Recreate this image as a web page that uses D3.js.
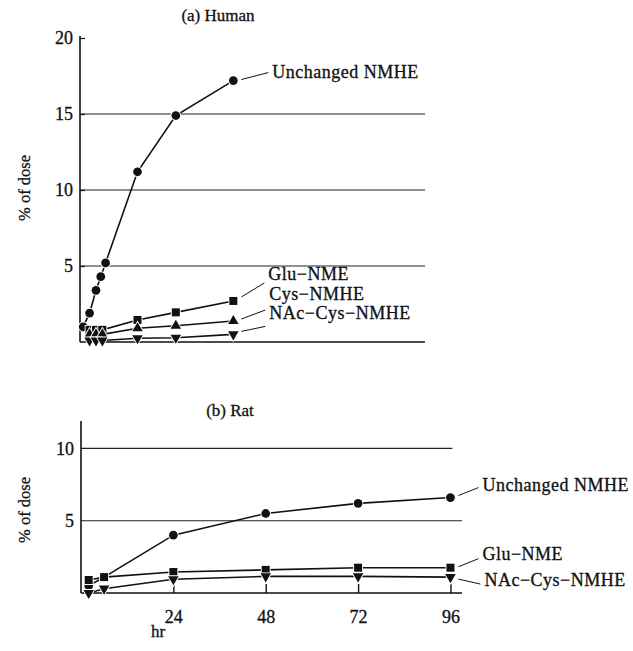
<!DOCTYPE html>
<html>
<head>
<meta charset="utf-8">
<script src="https://cdn.jsdelivr.net/npm/d3@7"></script>
<style>
  body { margin: 0; background: #fff; }
  text { font-family: "Liberation Serif", "Times New Roman", serif; fill: #111; stroke: #111; stroke-width: 0.3px; }
</style>
</head>
<body>
<script>
// Human data (hours, % of dose)
const humanHours = [0.5, 1.5, 2.5, 3.25, 4, 9, 15, 24];
const humanUnchanged = [1.0, 1.9, 3.4, 4.3, 5.2, 11.2, 14.9, 17.2];
const humanMetHours = [1.5, 2.5, 3.5, 9, 15, 24];
const humanGlu = [0.8, 0.8, 0.8, 1.45, 1.95, 2.7];
const humanCys = [0.5, 0.5, 0.5, 0.9, 1.07, 1.38];
const humanNAc = [0.1, 0.1, 0.1, 0.25, 0.28, 0.5];

// Rat data
const ratHours = [2, 6, 24, 48, 72, 96];
const ratUnchanged = [0.5, 1.1, 4.0, 5.5, 6.2, 6.6];
const ratGlu = [0.9, 1.1, 1.45, 1.6, 1.75, 1.75];
const ratNAc = [0, 0.3, 0.95, 1.15, 1.15, 1.1];

// Axis ticks
const humanYTicks = [5, 10, 15, 20];
const ratYTicks = [5, 10];
const ratXTicks = [24, 48, 72, 96];

const width = 633, height = 651;

const svg = d3.select('body').append('svg')
    .attr('width', width)
    .attr('height', height);

// marker shapes
const symbols = {
    circle: d3.symbol().type(d3.symbolCircle).size(60),
    square: d3.symbol().type(d3.symbolSquare).size(64),
    up: d3.symbol().type(d3.symbolTriangle).size(48)
};

function drawPanel(p) {
    const g = svg.append('g');

    const x = d3.scaleLinear().domain(p.xDomain).range(p.xRange);
    const y = d3.scaleLinear().domain(p.yDomain).range(p.yRange);

    // title
    g.append('text')
        .attr('x', p.titleX)
        .attr('y', p.titleY)
        .attr('text-anchor', 'middle')
        .attr('font-size', 17)
        .text(p.title);

    // y label
    g.append('text')
        .attr('transform', 'translate(' + 24 + ',' + p.yLabelY + ') rotate(-90)')
        .attr('text-anchor', 'middle')
        .attr('dy', '0.35em')
        .attr('font-size', 16.5)
        .text('% of dose');

    // grid lines
    g.selectAll('.grid').data(p.gridTicks).enter().append('line')
        .attr('x1', p.xRange[0])
        .attr('x2', d => x(p.gridEnd(d)))
        .attr('y1', d => y(d))
        .attr('y2', d => y(d))
        .attr('stroke', '#222')
        .attr('stroke-width', 1.1);

    // y axis
    const yAxis = d3.axisLeft(y)
        .tickValues(p.yTicks)
        .tickSize(p.yTickSize)
        .tickPadding(7)
        .tickFormat(d3.format('d'));
    const ya = g.append('g')
        .attr('transform', 'translate(' + p.xRange[0] + ',0)')
        .call(yAxis);
    ya.select('.domain')
        .attr('d', 'M0,' + p.yRange[0] + 'V' + p.axisTop)
        .attr('stroke', '#111').attr('stroke-width', 1.6);
    ya.selectAll('.tick line').attr('stroke', '#111').attr('stroke-width', 1.2);
    ya.selectAll('.tick text')
        .attr('font-family', '"Liberation Serif", serif')
        .attr('font-size', 18)
        .attr('fill', '#111');

    // x axis
    const xAxis = d3.axisBottom(x)
        .tickValues(p.xTicks)
        .tickSize(-9)
        .tickPadding(17)
        .tickFormat(d3.format('d'));
    const xa = g.append('g')
        .attr('transform', 'translate(0,' + p.yRange[0] + ')')
        .call(xAxis);
    xa.select('.domain')
        .attr('d', 'M' + p.xRange[0] + ',0H' + p.xRange[1])
        .attr('stroke', '#111').attr('stroke-width', 1.6);
    xa.selectAll('.tick line').attr('stroke', '#111').attr('stroke-width', 1.4);
    xa.selectAll('.tick text')
        .attr('font-family', '"Liberation Serif", serif')
        .attr('font-size', 18)
        .attr('fill', '#111');

    const line = d3.line().x(d => x(d[0])).y(d => y(d[1]));

    p.series.forEach(s => {
        const pts = s.hours.map((h, i) => [h, s.values[i]]);

        g.append('path')
            .datum(pts)
            .attr('d', line)
            .attr('fill', 'none')
            .attr('stroke', '#111')
            .attr('stroke-width', 1.6);

        g.selectAll(null).data(pts).enter().append('path')
            .attr('d', symbols[s.shape === 'down' ? 'up' : s.shape])
            .attr('transform', d => 'translate(' + x(d[0]) + ',' + y(d[1]) + ')' + (s.shape === 'down' ? ' rotate(180)' : ''))
            .attr('fill', '#111')
            .attr('stroke', '#fff')
            .attr('stroke-width', 1.8)
            .attr('paint-order', 'stroke');

        // label with leader line
        const last = pts[pts.length - 1];
        const lx = x(last[0]), ly = y(last[1]);
        g.append('line')
            .attr('x1', lx + 8).attr('y1', ly + s.lead[0])
            .attr('x2', lx + s.lx - 4).attr('y2', ly + s.lead[1])
            .attr('stroke', '#111')
            .attr('stroke-width', 1);
        g.append('text')
            .attr('x', lx + s.lx)
            .attr('y', ly + s.ly)
            .attr('font-size', 18)
            .attr('letter-spacing', 0.5)
            .text(s.name);
    });
}

// (a) Human
drawPanel({
    title: '(a) Human', titleX: 218, titleY: 21,
    yLabelY: 188,
    xDomain: [0, 54], xRange: [80, 425],
    yDomain: [0, 20], yRange: [342, 38],
    axisTop: 36,
    yTicks: humanYTicks, yTickSize: -5,
    gridTicks: [5, 10, 15], gridEnd: d => 54,
    xTicks: [],
    series: [
        { name: 'Unchanged NMHE', shape: 'circle', hours: humanHours, values: humanUnchanged, lx: 39, ly: -3, lead: [-1, -8] },
        { name: 'Glu\u2212NME', shape: 'square', hours: humanMetHours, values: humanGlu, lx: 35, ly: -21, lead: [-4, -18] },
        { name: 'Cys\u2212NMHE', shape: 'up', hours: humanMetHours, values: humanCys, lx: 36, ly: -21, lead: [-2, -11] },
        { name: 'NAc\u2212Cys\u2212NMHE', shape: 'down', hours: humanMetHours, values: humanNAc, lx: 36, ly: -15, lead: [-3, -8] }
    ]
});

// (b) Rat
drawPanel({
    title: '(b) Rat', titleX: 230, titleY: 416,
    yLabelY: 510,
    xDomain: [0, 99], xRange: [81, 462],
    yDomain: [0, 12], yRange: [593, 419.5],
    axisTop: 421,
    yTicks: ratYTicks, yTickSize: 0,
    gridTicks: [5, 10], gridEnd: d => d === 10 ? 96.5 : 99,
    xTicks: ratXTicks,
    series: [
        { name: 'Unchanged NMHE', shape: 'circle', hours: ratHours, values: ratUnchanged, lx: 32, ly: -7, lead: [-2, -10] },
        { name: 'Glu\u2212NME', shape: 'square', hours: ratHours, values: ratGlu, lx: 32, ly: -8, lead: [-1, -9] },
        { name: 'NAc\u2212Cys\u2212NMHE', shape: 'down', hours: ratHours, values: ratNAc, lx: 34, ly: 9, lead: [2, 7] }
    ]
});

// x axis title
svg.append('text')
    .attr('x', 158)
    .attr('y', 637)
    .attr('text-anchor', 'middle')
    .attr('font-size', 17)
    .text('hr');
</script>
</body>
</html>
